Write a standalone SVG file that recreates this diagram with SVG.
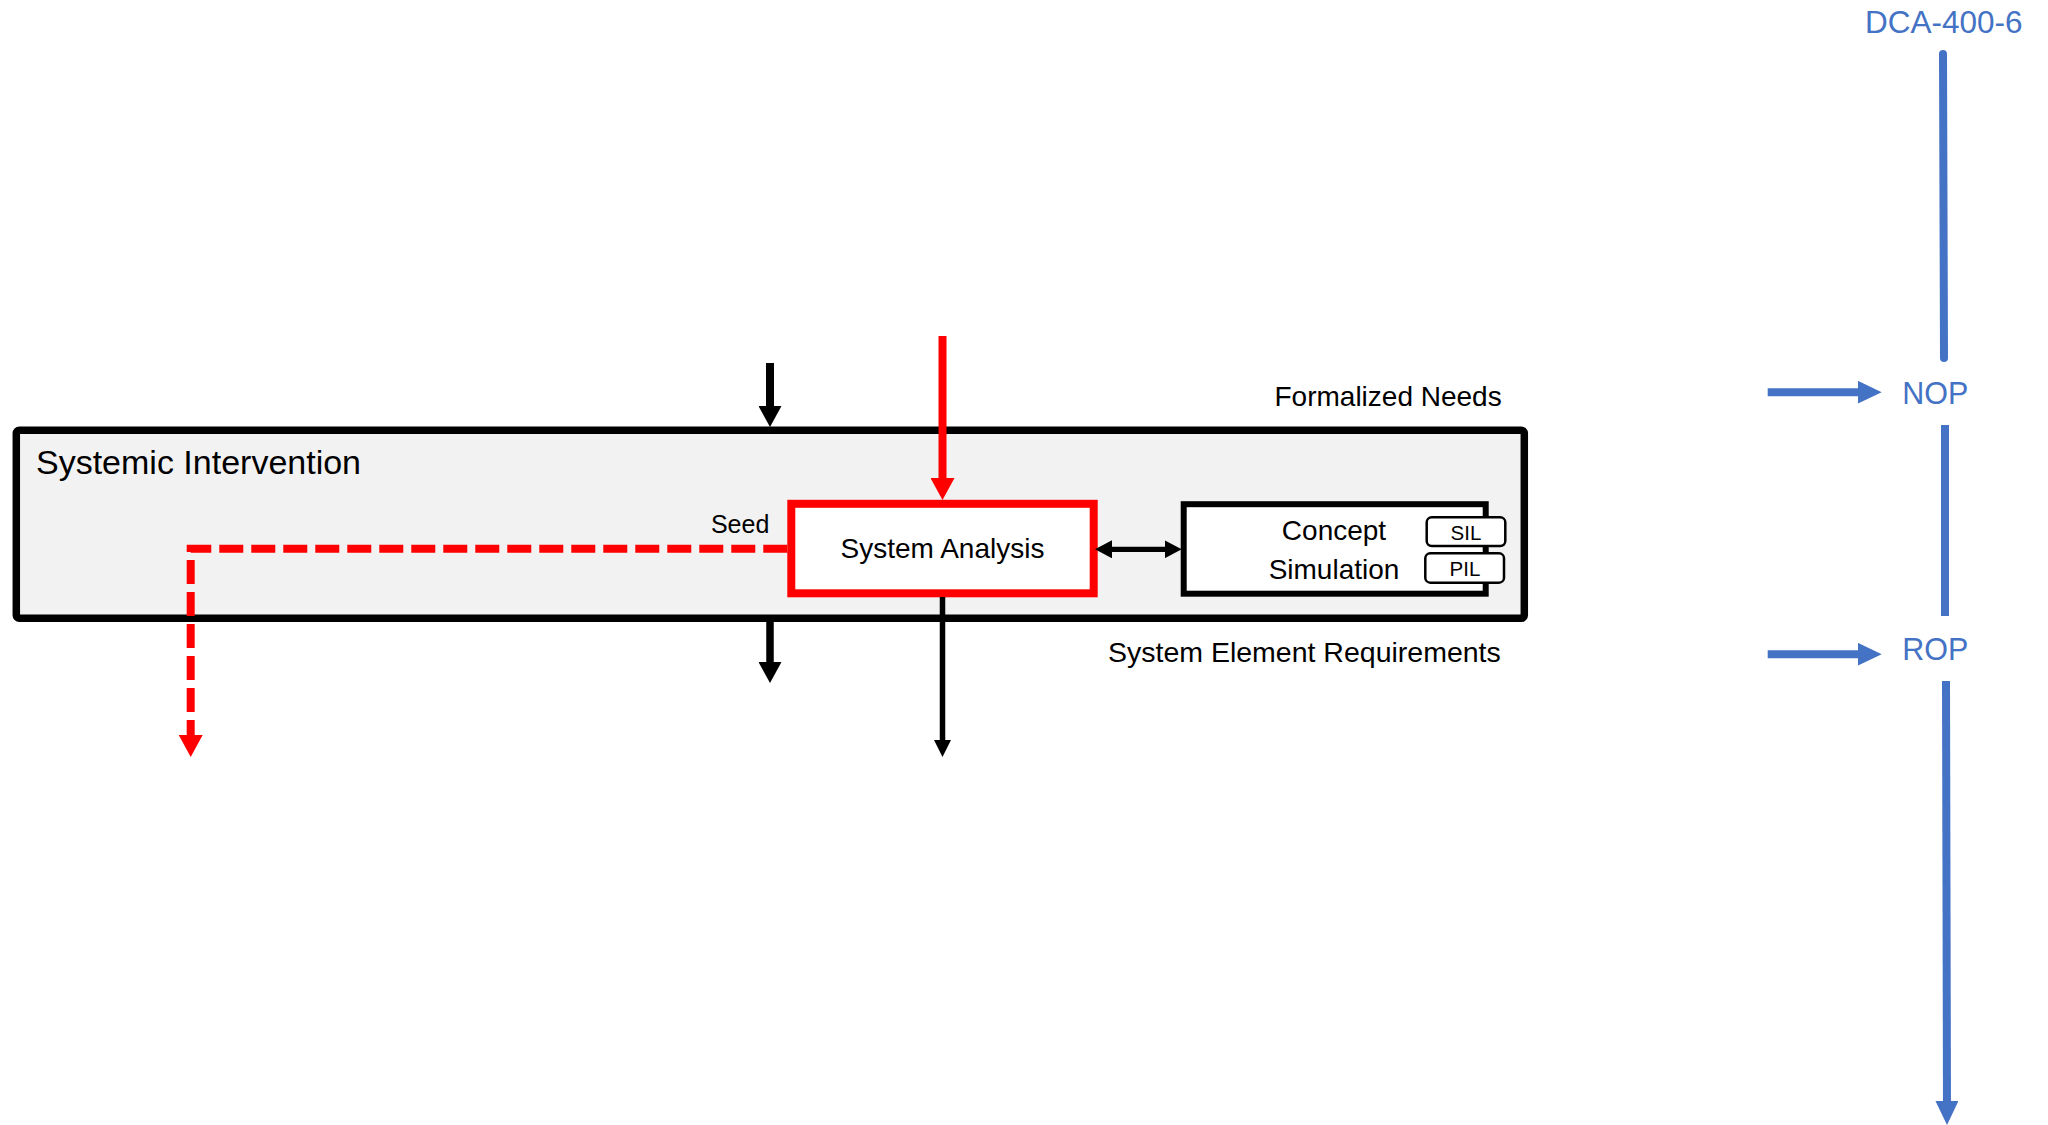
<svg xmlns="http://www.w3.org/2000/svg" width="2048" height="1125" viewBox="0 0 2048 1125">
  <style>
    text { font-family: "Liberation Sans", Arial, sans-serif; fill: #000; }
    .blue-t { fill: #4472C4; }
    .conn-black { fill: none; stroke: #000; }
    .conn-red { fill: none; stroke: #FF0000; }
    .conn-blue { fill: none; stroke: #4472C4; stroke-width: 8; }
    .tag { fill: #fff; stroke: #000; stroke-width: 2.5; }
  </style>
  <defs>
    <marker id="mBlackLg" markerUnits="userSpaceOnUse" markerWidth="21" markerHeight="23" refX="11" refY="11.5" orient="auto">
      <path d="M0,0 L21,11.5 L0,23 z" fill="#000"/>
    </marker>
    <marker id="mBlackSm" markerUnits="userSpaceOnUse" markerWidth="17" markerHeight="17" refX="9" refY="8.5" orient="auto">
      <path d="M0,0 L17,8.5 L0,17 z" fill="#000"/>
    </marker>
    <marker id="mBlackDbl" markerUnits="userSpaceOnUse" markerWidth="17" markerHeight="18" refX="9" refY="9" orient="auto-start-reverse">
      <path d="M0,0 L17,9 L0,18 z" fill="#000"/>
    </marker>
    <marker id="mRed" markerUnits="userSpaceOnUse" markerWidth="22" markerHeight="24" refX="12" refY="12" orient="auto">
      <path d="M0,0 L22,12 L0,24 z" fill="#FF0000"/>
    </marker>
    <marker id="mBlue" markerUnits="userSpaceOnUse" markerWidth="24" markerHeight="23" refX="12" refY="11.5" orient="auto">
      <path d="M0,0 L24,11.5 L0,23 z" fill="#4472C4"/>
    </marker>
  </defs>

  <rect width="2048" height="1125" fill="#fff"/>

  <g id="systemic-intervention">
    <rect x="16.3" y="430.3" width="1508" height="188" rx="3" fill="#F2F2F2" stroke="#000" stroke-width="7.5"/>
    <text x="36" y="474" font-size="34">Systemic Intervention</text>
  </g>

  <g id="system-analysis">
    <rect x="791.3" y="503.8" width="302.4" height="89.5" fill="#fff" stroke="#FF0000" stroke-width="8"/>
    <text x="942.5" y="558.3" font-size="28" text-anchor="middle">System Analysis</text>
  </g>

  <g id="concept-simulation">
    <rect x="1183.7" y="504.2" width="302" height="89.5" fill="#fff" stroke="#000" stroke-width="6"/>
    <text x="1334" y="540" font-size="28" text-anchor="middle">Concept</text>
    <text x="1334" y="579.3" font-size="28" text-anchor="middle">Simulation</text>
  </g>

  <g id="sil">
    <rect class="tag" x="1426.7" y="517.3" width="78.6" height="28.7" rx="5"/>
    <text x="1466" y="539.5" font-size="20.5" text-anchor="middle">SIL</text>
  </g>

  <g id="pil">
    <rect class="tag" x="1425.3" y="553.3" width="78.7" height="29.4" rx="5"/>
    <text x="1465" y="575.5" font-size="20.5" text-anchor="middle">PIL</text>
  </g>

  <g id="labels">
    <text x="769.3" y="533.3" font-size="25" text-anchor="end">Seed</text>
    <text x="1501.7" y="406" font-size="28" text-anchor="end">Formalized Needs</text>
    <text x="1500.8" y="662" font-size="28.5" text-anchor="end">System Element Requirements</text>
  </g>

  <g id="dca-400-6">
    <text class="blue-t" x="1865" y="33.3" font-size="31.5">DCA-400-6</text>
  </g>
  <g id="nop">
    <text class="blue-t" x="1902.3" y="404" font-size="30.5">NOP</text>
  </g>
  <g id="rop">
    <text class="blue-t" x="1902.3" y="660" font-size="30.5">ROP</text>
  </g>

  <g id="connectors">
    <path class="conn-black" d="M770,363 V417" stroke-width="8" marker-end="url(#mBlackLg)"/>
    <path class="conn-black" d="M770,622 V673" stroke-width="7.5" marker-end="url(#mBlackLg)"/>
    <path class="conn-red" d="M942.5,336 V490" stroke-width="8" marker-end="url(#mRed)"/>
    <path class="conn-black" d="M942.5,597 V749" stroke-width="5.5" marker-end="url(#mBlackSm)"/>
    <path class="conn-black" d="M1103,549.3 H1173.7" stroke-width="5.3" marker-start="url(#mBlackDbl)" marker-end="url(#mBlackDbl)"/>
    <path class="conn-red" d="M787.3,548.7 H190.7 V747" stroke-width="8" stroke-dasharray="24 8" stroke-linejoin="miter" marker-end="url(#mRed)"/>
    <path class="conn-blue" d="M1943,54 L1944,358" stroke-linecap="round"/>
    <path class="conn-blue" d="M1945,425 L1945,616"/>
    <path class="conn-blue" d="M1946,681 L1947,1113" marker-end="url(#mBlue)"/>
    <path class="conn-blue" d="M1767.7,392.2 H1869.7" marker-end="url(#mBlue)"/>
    <path class="conn-blue" d="M1767.7,654.2 H1869.7" marker-end="url(#mBlue)"/>
  </g>
</svg>
